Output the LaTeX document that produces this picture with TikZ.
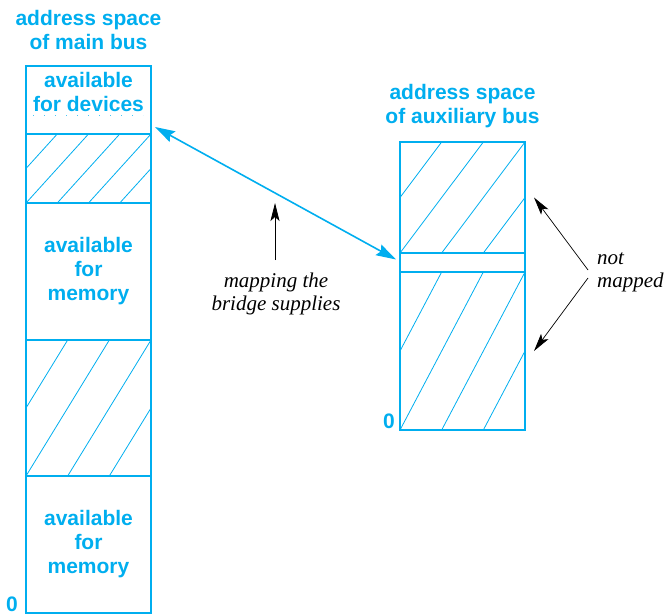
\documentclass[tikz,border=0pt]{standalone}
\usepackage{fontspec}
\newfontfamily\hv{Liberation Sans}
\newfontfamily\tm{Liberation Serif}
\usetikzlibrary{arrows.meta,calc}
\definecolor{cyanb}{RGB}{0,174,239}
\newcommand\hatchbox[3]{%
  \begin{scope}
    \clip (#1.south west) rectangle (#1.north east);
    \foreach \k in {1,...,#3}{%
      \pgfmathsetmacro\fa{\k/#2}%
      \pgfmathsetmacro\fb{(\k-2)/#2}%
      \draw[hatchline] ($(#1.north west)!\fa!(#1.north east)$) -- ($(#1.south west)!\fb!(#1.south east)$);
    }
  \end{scope}}
\begin{document}
\begin{tikzpicture}[x=1pt,y=-1pt,
  bluefont/.style={font=\hv\bfseries\fontsize{21}{24}\selectfont},
  region/.style={draw=cyanb, line width=2pt, inner sep=0pt, outer sep=0pt,
    anchor=north west, minimum width=125pt, text=cyanb, bluefont, align=center},
  bluetext/.style={text=cyanb, bluefont, align=center, inner sep=0pt},
  note/.style={font=\tm\itshape\fontsize{21}{23}\selectfont, inner sep=0pt},
  hatchline/.style={draw=cyanb, line width=0.8pt},
  bluearrow/.style={draw=cyanb, line width=1.6pt,
    {Stealth[length=20pt,width=12pt,inset=3pt]}-{Stealth[length=20pt,width=12pt,inset=3pt]}},
  blackarrow/.style={draw=black, line width=0.7pt,
    -{Stealth[length=18pt,width=9pt,inset=4pt]}}]
\useasboundingbox (0,0) rectangle (668,615);

% headings
\node[bluetext] (hmain) at (88.5,30) {address space\\of main bus};
\node[bluetext] (haux) at (462.5,106) {address space\\of auxiliary bus};

% main bus address space
\node[region, minimum height=68pt] (L1) at (26,66) {};
\node[region, minimum height=69pt] (L2) at (26,134) {};
\node[region, minimum height=137pt] (L3) at (26,203) {available\\for\\memory};
\node[region, minimum height=136pt] (L4) at (26,340) {};
\node[region, minimum height=137pt] (L5) at (26,476) {available\\for\\memory};
\node[bluetext] (devtext) at (88.5,92) {available\\for devices};
\draw[cyanb!70, line width=0.9pt, dash pattern=on 0.9pt off 10.1pt] (33,115) -- (143,115);
\hatchbox{L2}{4}{5}
\hatchbox{L4}{3}{4}
\node[bluetext] (zmain) at (12,604) {0};

% auxiliary bus address space
\node[region, minimum height=111pt] (R1) at (400,142) {};
\node[region, minimum height=19pt] (R2) at (400,253) {};
\node[region, minimum height=158pt] (R3) at (400,272) {};
\hatchbox{R1}{3}{4}
\hatchbox{R3}{3}{4}
\node[bluetext] (zaux) at (389,421) {0};

% mapping arrow
\draw[bluearrow] ($(L1.south east)+(4,-7)$) -- ($(R2.west)+(-4,-3)$);

% annotation: mapping the bridge supplies
\node[note, align=center] (mapnote) at (276,294) {mapping the\\bridge supplies};
\coordinate (mapfoot) at (275,260);
\coordinate (maptip) at (275,203);
\draw[blackarrow] (mapfoot) -- (maptip);

% annotation: not mapped
\node[note, align=left, anchor=west] (nm) at (597,272.5) {not\\mapped};
\draw[blackarrow] ($(nm.west)+(-9,-2.5)$) -- ($(R1.east)+(9,0)$);
\draw[blackarrow] ($(nm.west)+(-9,5.5)$) -- ($(R3.east)+(9,0)$);
\end{tikzpicture}
\end{document}
